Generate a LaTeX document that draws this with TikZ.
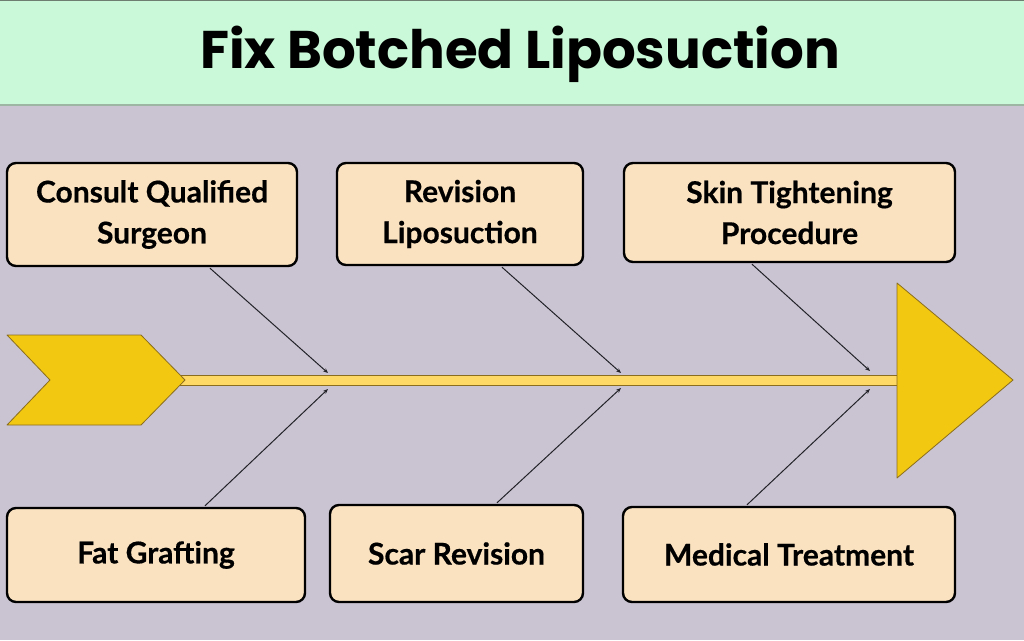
\documentclass[tikz,border=0pt]{standalone}
\usepackage{fontspec}
\setmainfont{Lato}[BoldFeatures={FakeBold=0.5}]
\newfontfamily\titlefont{Poppins}
\usetikzlibrary{arrows.meta}
\definecolor{bgc}{HTML}{CAC4D2}
\definecolor{titlec}{HTML}{C9F9D8}
\definecolor{titleline}{HTML}{9DB5A3}
\definecolor{boxfill}{HTML}{FAE2C0}
\definecolor{spinefill}{HTML}{FFD966}
\definecolor{fishfill}{HTML}{F2C811}
\definecolor{fishline}{HTML}{8A6D1E}
\definecolor{conn}{HTML}{222228}
\tikzset{
  causebox/.style={draw=black, line width=2.4pt, fill=boxfill, rounded corners=9pt,
    align=center, font=\fontsize{30}{41}\selectfont\bfseries, inner sep=0pt},
  connector/.style={draw=conn, line width=1pt, -{Stealth[length=5pt,width=4pt]}},
  fishpart/.style={fill=fishfill, draw=fishline, line width=0.8pt, line join=round}
}
\begin{document}
\begin{tikzpicture}[x=1pt,y=-1pt]
\useasboundingbox (0,0) rectangle (1024,640);
\fill[bgc] (0,0) rectangle (1024,640);
\fill[titlec] (0,0) rectangle (1024,105);
\draw[titleline, line width=2pt] (0,105) -- (1024,105);
\draw[titleline!70!black, line width=1pt] (0,0.5) -- (1024,0.5);
\node[font=\titlefont\fontsize{53}{56}\selectfont\bfseries] (title) at (520,54) {Fix Botched Liposuction};

% spine, tail and head
\draw[fill=spinefill, draw=fishline, line width=0.6pt] (180,375) rectangle (900,385.5);
\node[inner sep=0pt, minimum width=0pt] (spine) at (540,380) {};
\draw[fishpart] (7,335) -- (141,335) -- (185,380) -- (141,425) -- (7,425) -- (50,380) -- cycle;
\draw[fishpart] (897,283) -- (1013,380) -- (897,478) -- cycle;

% boxes
\node[causebox, minimum width=290pt, minimum height=103pt] (b1) at (152,214.5) {Consult Qualified\\Surgeon};
\node[causebox, minimum width=246pt, minimum height=102pt] (b2) at (460,214) {Revision\\Liposuction};
\node[causebox, minimum width=331pt, minimum height=99pt] (b3) at (789.5,212.5) {Skin Tightening\\Procedure};
\node[causebox, minimum width=298pt, minimum height=94pt] (b4) at (156,555) {Fat Grafting};
\node[causebox, minimum width=253pt, minimum height=97pt] (b5) at (456.5,553.5) {Scar Revision};
\node[causebox, minimum width=332pt, minimum height=95pt] (b6) at (789,554.5) {Medical Treatment};

% connector targets on the spine
\coordinate (t1) at (328,373);
\coordinate (t4) at (328,389);
\coordinate (t2) at (621,373);
\coordinate (t5) at (621,388);
\coordinate (t3) at (870,371);
\coordinate (t6) at (870,389);

\draw[connector] ([xshift=58pt,yshift=-1pt]b1.south) -- (t1);
\draw[connector] ([xshift=49pt,yshift=1pt]b4.north) -- (t4);
\draw[connector] ([xshift=42pt,yshift=-1pt]b2.south) -- (t2);
\draw[connector] ([xshift=40.5pt,yshift=1pt]b5.north) -- (t5);
\draw[connector] ([xshift=-37.5pt,yshift=-1pt]b3.south) -- (t3);
\draw[connector] ([xshift=-42pt,yshift=1pt]b6.north) -- (t6);
\end{tikzpicture}
\end{document}
